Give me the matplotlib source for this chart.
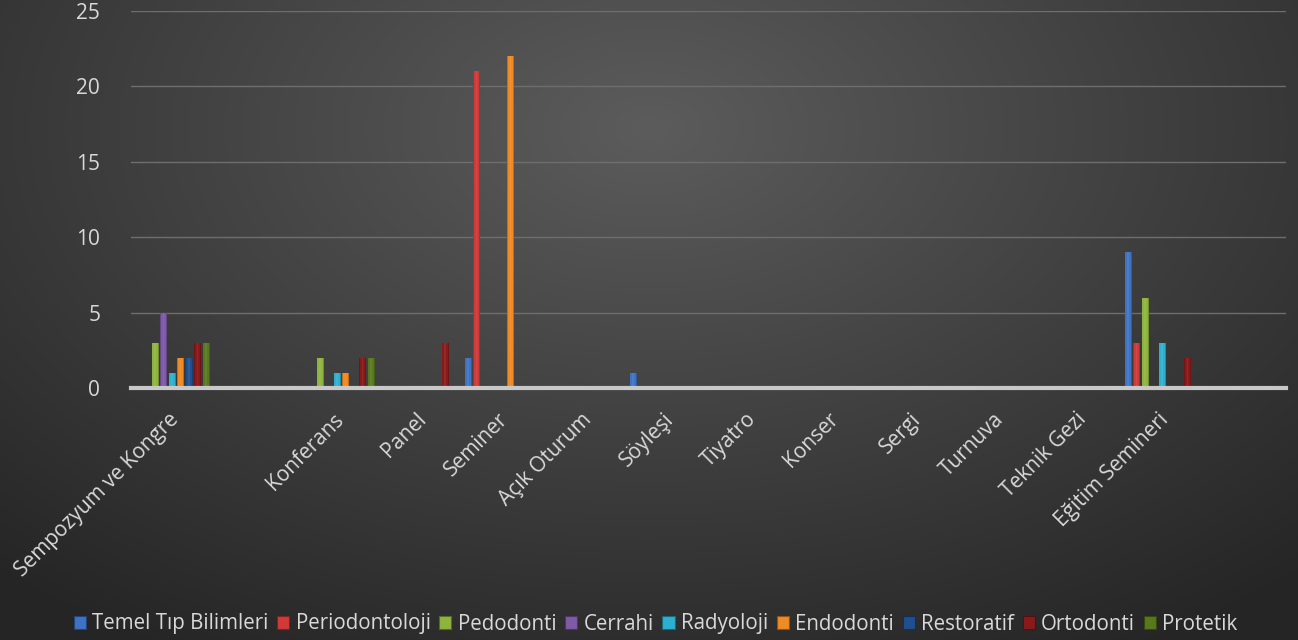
import numpy as np
import matplotlib
matplotlib.use("Agg")
import matplotlib.pyplot as plt
from matplotlib.patches import Patch
import matplotlib.transforms as mtransforms

categories = ["Sempozyum ve Kongre", "", "Konferans", "Panel", "Seminer", "Açık Oturum",
              "Söyleşi", "Tiyatro", "Konser", "Sergi", "Turnuva", "Teknik Gezi",
              "Eğitim Semineri", ""]
series_names = ["Temel Tıp Bilimleri", "Periodontoloji", "Pedodonti", "Cerrahi",
                "Radyoloji", "Endodonti", "Restoratif", "Ortodonti", "Protetik"]
temel          = [0, 0, 0, 0, 2, 0, 1, 0, 0, 0, 0, 0, 9, 0]
periodontoloji = [0, 0, 0, 0, 21, 0, 0, 0, 0, 0, 0, 0, 3, 0]
pedodonti      = [3, 0, 2, 0, 0, 0, 0, 0, 0, 0, 0, 0, 6, 0]
cerrahi        = [5, 0, 0, 0, 0, 0, 0, 0, 0, 0, 0, 0, 0, 0]
radyoloji      = [1, 0, 1, 0, 0, 0, 0, 0, 0, 0, 0, 0, 3, 0]
endodonti      = [2, 0, 1, 0, 22, 0, 0, 0, 0, 0, 0, 0, 0, 0]
restoratif     = [2, 0, 0, 0, 0, 0, 0, 0, 0, 0, 0, 0, 0, 0]
ortodonti      = [3, 0, 2, 3, 0, 0, 0, 0, 0, 0, 0, 0, 2, 0]
protetik       = [3, 0, 2, 0, 0, 0, 0, 0, 0, 0, 0, 0, 0, 0]
series_values = [temel, periodontoloji, pedodonti, cerrahi, radyoloji,
                 endodonti, restoratif, ortodonti, protetik]
colors = ["#3d72c4", "#d03a38", "#8fb43e", "#7e5aa8", "#2db0cf",
          "#f08a22", "#1f4f8e", "#8a1a1a", "#58781e"]
yticks = [0, 5, 10, 15, 20, 25]

plt.rcParams['font.family'] = ['Open Sans', 'DejaVu Sans']

W, H = 1298, 640
fig = plt.figure(figsize=(W / 100, H / 100), dpi=100)

# background radial gradient
bg = fig.add_axes([0, 0, 1, 1], zorder=-10)
yy, xx = np.mgrid[0:H, 0:W]
cx, cy = 0.5 * W, 0.2 * H
r = np.sqrt(((xx - cx) / (0.75 * W)) ** 2 + ((yy - cy) / (0.95 * H)) ** 2)
r = np.clip(r, 0, 1)
c0 = np.array([0x5c, 0x5c, 0x5c]) / 255
c1 = np.array([0x25, 0x25, 0x25]) / 255
img = c0[None, None, :] * (1 - r[..., None]) + c1[None, None, :] * r[..., None]
bg.imshow(img, aspect='auto', extent=[0, 1, 0, 1], origin='upper')
bg.axis('off')

ax = fig.add_axes([130.75 / W, (H - 388) / H, (1285.75 - 130.75) / W, (388 - 11) / H])
ax.patch.set_alpha(0)

n = len(series_names)
slot = 8.5 / 82.5
bw = 7.0 / 82.5
x = np.arange(len(categories))


def darker(c, f):
    rgb = np.array(matplotlib.colors.to_rgb(c))
    return tuple(rgb * f)


def lighter(c, f):
    rgb = np.array(matplotlib.colors.to_rgb(c))
    return tuple(rgb + (1 - rgb) * f)


for i, (name, vals, col) in enumerate(zip(series_names, series_values, colors)):
    pos = x + (i - (n - 1) / 2) * slot
    v = np.array(vals, dtype=float)
    ax.bar(pos, v, width=bw, color=darker(col, 0.8), zorder=3, linewidth=0)
    ax.bar(pos, v, width=bw * 0.75, color=col, zorder=4, linewidth=0)
    ax.bar(pos, v, width=bw * 0.25, color=lighter(col, 0.12), zorder=5, linewidth=0, alpha=0.6)

ax.set_xlim(-0.5, len(categories) - 0.5)
ax.set_ylim(0, 25)
ax.set_yticks(yticks)
ax.set_yticklabels([str(t) for t in yticks], color="#d9d9d9", fontsize=15)
ax.tick_params(axis='y', length=0, pad=22)
ax.tick_params(axis='x', length=0)
ax.yaxis.grid(True, color="#6e6e6e", linewidth=1.0, zorder=0)
ax.set_axisbelow(True)
for s in ["top", "right", "left"]:
    ax.spines[s].set_visible(False)
ax.spines["bottom"].set_color("#c8c8c8")
ax.spines["bottom"].set_linewidth(3)
ax.spines["bottom"].set_zorder(6)

ax.set_xticks(x)
ax.set_xticklabels(categories, rotation=45, ha='right', va='top',
                   rotation_mode='anchor', color="#d9d9d9", fontsize=15)
offset = mtransforms.ScaledTranslation(-4 / 100, -16 / 100, fig.dpi_scale_trans)
for lbl in ax.get_xticklabels():
    lbl.set_transform(lbl.get_transform() + offset)

handles = [Patch(facecolor=c, edgecolor=darker(c, 0.6), linewidth=0.8) for c in colors]
leg = fig.legend(handles, series_names, loc='center', bbox_to_anchor=(0.505, (H - 624) / H),
                 ncol=9, frameon=False, fontsize=14.8, handlelength=0.6, handleheight=0.6,
                 handletextpad=0.3, columnspacing=0.42, labelcolor="#d9d9d9")

fig.savefig("out.png", dpi=100)
